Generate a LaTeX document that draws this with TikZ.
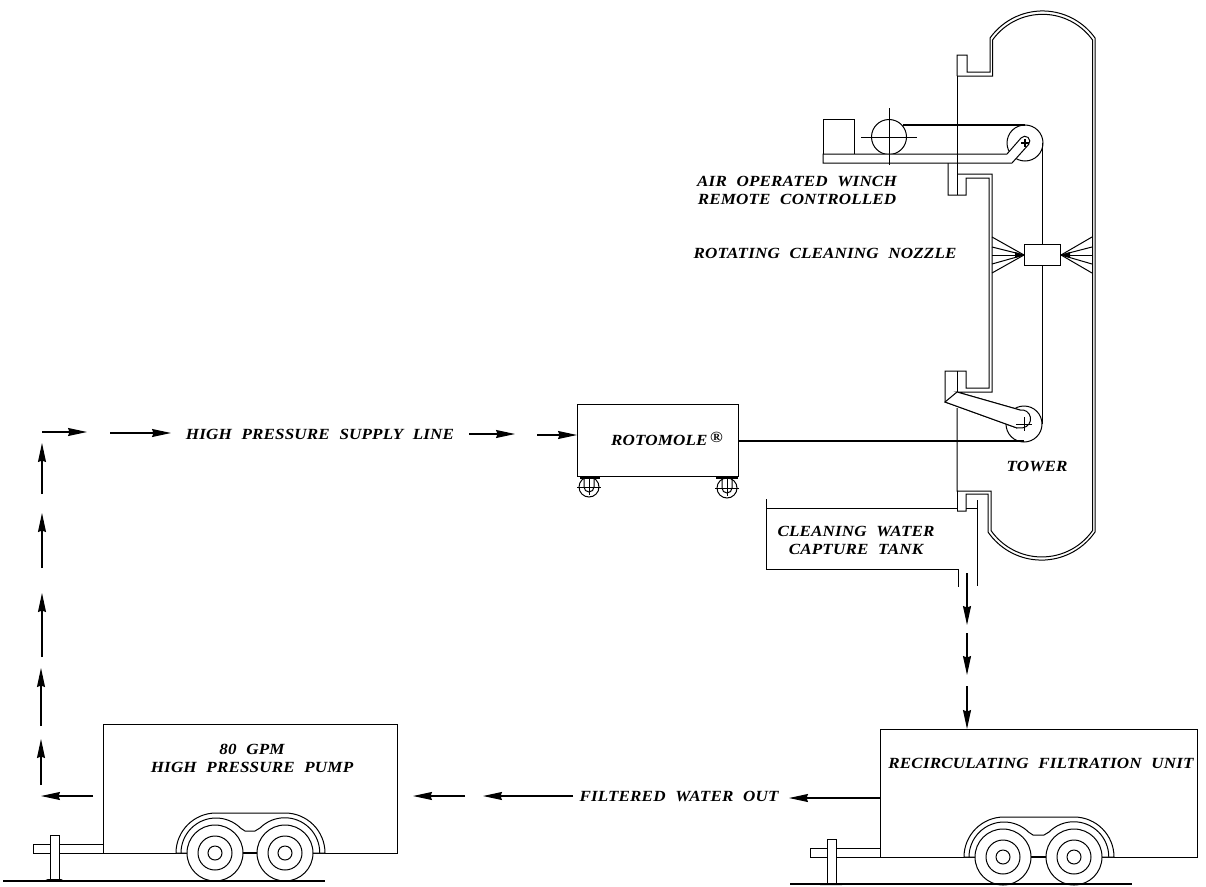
\documentclass[tikz,border=0pt]{standalone}
\usepackage{fontspec}
\setmainfont{Liberation Serif}
\newfontfamily\cadfont[WordSpace=2.2,FakeStretch=1.1,LetterSpace=1]{Liberation Serif Bold Italic}
\usetikzlibrary{arrows.meta}
\tikzset{
  thinline/.style={line width=1pt,black},
  heavyline/.style={line width=1.4pt,black},
  flow/.style={line width=1.1pt,black,-{Stealth[length=19pt,width=8pt,inset=1.5pt]}},
  label text/.style={font=\cadfont\fontsize{15.5}{18}\selectfont,align=center,inner sep=0pt,text=black},
  box/.style={draw=black,line width=1.3pt,inner sep=0pt,minimum width=#1,fill=none},
}
\newcommand\flowseg[3]{\coordinate (#1s) at (#2);\coordinate (#1e) at (#3);\draw[flow] (#1s) -- (#1e);}
\newcommand\running[3]{%
  \begin{scope}[shift={(#1,#2)}]
    \draw[thinline,fill=white] (-39,0) arc (180:270:40) -- (#3,-40) arc (270:360:40) -- cycle;
    \draw[thinline] (-34,0) arc (180:315:35) -- (30,-22) -- (#3-30,-22) -- (#3-25,-25) arc (225:360:35);
    \draw[heavyline] (28,0) -- (#3-28,0);
    \foreach \cx in {0,#3}{
      \draw[thinline,fill=white] (\cx,0) circle[radius=28];
      \draw[thinline] (\cx,0) circle[radius=17];
      \draw[thinline] (\cx,0) circle[radius=7];
    }
  \end{scope}}
\newcommand\hitch[2]{%
  \begin{scope}[shift={(#1,#2)}]
    \draw[thinline] (-70,-9) rectangle (0,0);
    \draw[thinline,fill=white] (-53,-18) rectangle (-44,26);
    \fill[black] (-60,28) -- (-55,26) -- (-42,26) -- (-38,28) -- cycle;
  \end{scope}}
\newcommand\castor[2]{%
  \begin{scope}[shift={(#1,#2)}]
    \draw[thinline] (0,0) circle[radius=10];
    \draw[thinline] (-12,0) -- (12,0);
    \draw[thinline] (0,-11) -- (0,8);
    \draw[thinline] (-5,-10) -- (-5,0) arc (180:0:5) -- (5,-10);
  \end{scope}}
\begin{document}
\begin{tikzpicture}[x=1pt,y=-1pt]
\fill[white] (0,0) rectangle (1206,886);
\useasboundingbox (0,0) rectangle (1206,886);

% boxes
\node[box=161pt,minimum height=72pt,anchor=north west] (rotomole) at (577,404) {};
\node[box=294pt,minimum height=129pt,anchor=north west] (pump) at (103,724) {};
\node[box=317pt,minimum height=128pt,anchor=north west] (filter) at (880,729) {};
\node[draw=black,thinline,inner sep=0pt,minimum width=36pt,minimum height=21pt,anchor=north west] (nozzle) at (1024,244) {};

% trailers
\running{215}{853}{70}
\hitch{103}{853}
\running{1003}{857}{71}
\hitch{880}{857}
\draw[heavyline] (3,881) -- (325,881);
\draw[heavyline] (790,884) -- (1132,884);

% castors
\castor{589}{487}
\castor{727}{488}
\draw[heavyline] (580,478) -- (600,478);
\draw[heavyline] (716,478) -- (738,478);

% tower shell
\draw[thinline] (957,76) -- (957,55) -- (967,55) -- (967,72) -- (990,72) -- (990,38)
  arc (-144.5:-35.5:64.5) -- (1095,532)
  arc (34.6:145.4:65) -- (988,494) -- (966,494) -- (966,511) -- (957,511);
\draw[thinline] (957,76) -- (992.5,76) -- (992.5,40)
  arc (-144.4:-35.6:61.5) -- (1092.5,530.6)
  arc (35.1:144.9:62) -- (991,491) -- (957,491) -- (957,408);
\draw[thinline] (957,76) -- (957,195);
\draw[thinline] (957,491) -- (957,511);
% middle section and flanges
\draw[thinline] (948,163) -- (948,195) -- (966,195) -- (966,178) -- (989,178) -- (989,388)
  -- (966,388) -- (966,371) -- (945,371) -- (945,402) -- (1017,428);
\draw[thinline] (957,174) -- (992,174) -- (992,392) -- (957,392) -- (1020,410);
\draw[thinline] (957,371) -- (957,392);

% lower pulley
\coordinate (lowpulley) at (1024,424);
\draw[thinline] (lowpulley) circle[radius=18];
\draw[thinline,fill=white] (1017,428) -- (945,402) -- (957,392) -- (1020,410) arc (-100:80:9) -- cycle;
\draw[thinline] (1016,424) -- (1032,424) (1024,417) -- (1024,431);

% winch
\node[draw=black,thinline,inner sep=0pt,minimum width=31pt,minimum height=35pt,anchor=north west] (winchbox) at (823,119) {};
\coordinate (drum) at (889,137);
\coordinate (toppulley) at (1025,143);
\draw[thinline] (drum) circle[radius=17.5];
\draw[thinline] (861,137) -- (917,137);
\draw[thinline] (889,108) -- (889,165);
\draw[thinline] (toppulley) circle[radius=18];
\draw[heavyline] (903,125) -- (1025,125);
\draw[thinline,fill=white] (823,154) -- (1007,154) -- (1021,138) arc (-140:40:5) -- (1012,163) -- (823,163) -- cycle;
\draw[heavyline] (1021,143) -- (1029,143) (1025,139) -- (1025,147);
\draw[thinline] (957,76) -- (957,195);
\draw[thinline] (889,154) -- (889,165);

% cable and nozzle
\coordinate (cabletop) at (1042.5,143);
\coordinate (cablelow) at (1042.5,424);
\draw[thinline] (cabletop) -- (cabletop |- nozzle.north);
\draw[thinline] (cablelow |- nozzle.south) -- (cablelow);
\foreach \yy in {237,247,255,264,273}{
  \draw[thinline] (nozzle.west) -- (992,\yy);
  \draw[thinline] (nozzle.east) -- (1092,\yy);
}
\fill[black] (nozzle.west) -- ++(-9,-3) -- ++(0,6) -- cycle;
\fill[black] (nozzle.east) -- ++(9,-3) -- ++(0,6) -- cycle;

% rotomole to pulley
\coordinate (rotoout) at (1024,441);
\draw[heavyline] (rotoout -| rotomole.east) -- (rotoout);

% capture tank
\draw[thinline] (766,499) -- (766,569) -- (958,569) -- (958,587);
\draw[thinline] (766,508) -- (957,508);
\draw[thinline] (966,508) -- (977,508);
\draw[thinline] (977,500) -- (977,586);

% flow arrows
\flowseg{a1}{967,573}{967,625}
\flowseg{a2}{967,633}{967,675}
\coordinate (a3s) at (967,686);
\draw[flow] (a3s) -- (a3s |- filter.north);
\coordinate (b1e) at (789,798);
\draw[flow] (b1e -| filter.west) -- (b1e);
\flowseg{b2}{573,796}{483,796}
\flowseg{b3}{465,796}{413,796}
\coordinate (c1e) at (41,796);
\draw[flow] (93,796) -- (c1e);
\flowseg{d1}{41,785}{41,739}
\flowseg{d2}{41,726}{41,668}
\flowseg{d3}{42,657}{42,593}
\flowseg{d4}{42,568}{42,513}
\flowseg{d5}{42,494}{42,443}
\flowseg{e1}{42,432}{87,432}
\flowseg{e2}{110,433}{171,433}
\flowseg{e3}{469,434}{515,434}
\coordinate (e4s) at (537,435);
\draw[flow] (e4s) -- (e4s -| rotomole.west);

% labels
\node[label text] (lwinch) at (797,190) {AIR OPERATED WINCH\\REMOTE CONTROLLED};
\node[label text] (lnozzle) at (825,253) {ROTATING CLEANING NOZZLE};
\node[label text] (ltower) at (1037,466) {TOWER};
\node[label text] (ltank) at (856,540) {CLEANING WATER\\CAPTURE TANK};
\node[label text] (lroto) at (667,439) {ROTOMOLE\,\raisebox{3pt}{\fontsize{15.5}{15.5}\selectfont\textregistered}};
\node[label text] (lsupply) at (320,434) {HIGH PRESSURE SUPPLY LINE};
\node[label text] (lpump) at (252,758) {80 GPM\\HIGH PRESSURE PUMP};
\node[label text] (lout) at (679,796) {FILTERED WATER OUT};
\node[label text] (lfilter) at (1041,763) {RECIRCULATING FILTRATION UNIT};
\end{tikzpicture}
\end{document}
